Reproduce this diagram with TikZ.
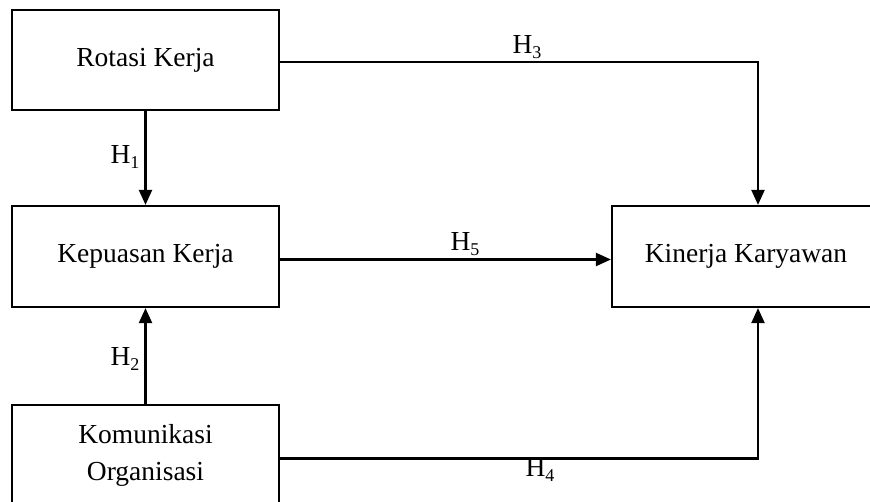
\documentclass[tikz,border=0pt]{standalone}
\usepackage{fontspec}
\setmainfont{Liberation Serif}
\usetikzlibrary{arrows.meta}
\newcommand\hlab[1]{H\raisebox{-0.35ex}{\fontsize{18}{18}\selectfont #1}}
\begin{document}
\begin{tikzpicture}[x=1pt,y=-1pt,
  box/.style={draw=black,line width=2.2pt,minimum width=267pt,minimum height=100pt,inner sep=0pt,align=center,font=\fontsize{27.5}{37}\selectfont},
  conn/.style={draw=black,line width=2.2pt,-{Triangle[width=13pt,length=15pt]}},
  lab/.style={font=\fontsize{27.5}{30}\selectfont,inner sep=0pt}]
\useasboundingbox (0,0) rectangle (870,502);
\clip (0,0) rectangle (870,502);
\fill[white] (0,0) rectangle (870,502);
\node[box] (rot) at (145.5,60) {\raisebox{-2pt}{Rotasi Kerja}};
\node[box,minimum height=101pt] (kep) at (145.5,256.5) {\raisebox{-2pt}{Kepuasan Kerja}};
\node[box,minimum height=101pt] (kom) at (145.5,455.5) {Komunikasi\\Organisasi};
\node[box,minimum width=268pt,minimum height=101pt] (kin) at (746,256.5) {\raisebox{-2pt}{Kinerja Karyawan}};
\coordinate (kx) at (758,0);
\draw[conn] (rot.south) -- (kep.north);
\draw[conn] (kom.north) -- (kep.south);
\draw[conn] ([yshift=-2pt]rot.east) -| (kin.north -| kx);
\draw[conn] ([yshift=-3pt]kep.east) -- ([yshift=-3pt]kin.west);
\draw[conn] ([yshift=-3pt]kom.east) -| (kin.south -| kx);
\node[lab] (h1) at (125,157) {\hlab{1}};
\node[lab] (h2) at (125,359) {\hlab{2}};
\node[lab] (h3) at (527,47) {\hlab{3}};
\node[lab] (h5) at (465,244) {\hlab{5}};
\node[lab] (h4) at (540,470) {\hlab{4}};
\end{tikzpicture}
\end{document}
